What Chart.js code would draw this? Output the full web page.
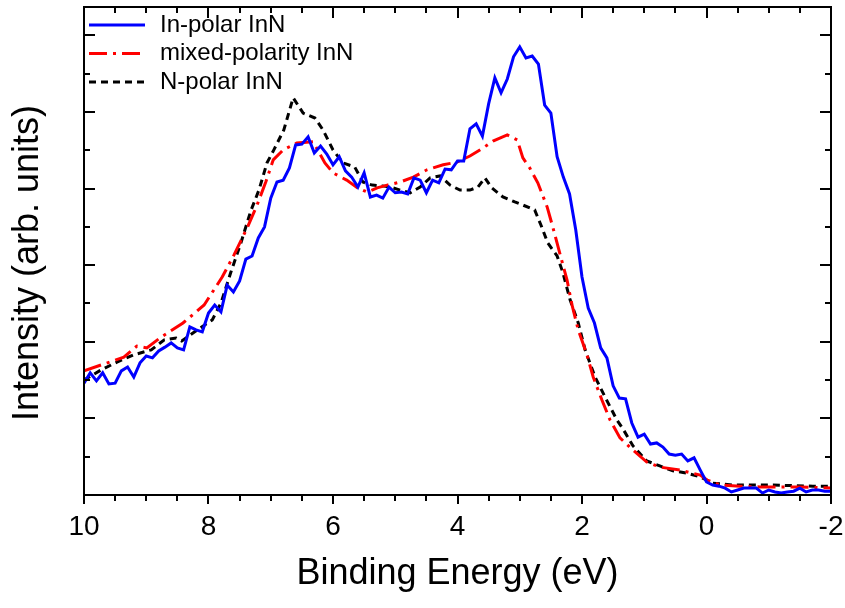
<!DOCTYPE html>
<html>
<head>
<meta charset="utf-8">
<script src="https://cdn.jsdelivr.net/npm/chart.js@4.4.0/dist/chart.umd.min.js"></script>
<style>
  html, body { margin: 0; padding: 0; background: #fff; }
</style>
</head>
<body>
<canvas id="xps" width="845" height="608"></canvas>
<script>
// Series names (legend order)
const seriesNames = ['In-polar InN', 'mixed-polarity InN', 'N-polar InN'];

// In-polar InN: binding energy (eV) and intensity (arb. units)
const inPolarEnergy = [
  10.0, 9.9, 9.8, 9.7, 9.6, 9.5, 9.4, 9.3, 9.2, 9.1,
  9.0, 8.9, 8.8, 8.7, 8.6, 8.5, 8.4, 8.3, 8.2, 8.1,
  8.0, 7.9, 7.8, 7.7, 7.6, 7.5, 7.4, 7.3, 7.2, 7.1,
  7.0, 6.9, 6.8, 6.7, 6.6, 6.5, 6.4, 6.3, 6.2, 6.1,
  6.0, 5.9, 5.8, 5.7, 5.6, 5.5, 5.4, 5.3, 5.2, 5.1,
  5.0, 4.9, 4.8, 4.7, 4.6, 4.5, 4.4, 4.3, 4.2, 4.1,
  4.0, 3.9, 3.8, 3.7, 3.6, 3.5, 3.4, 3.3, 3.2, 3.1,
  3.0, 2.9, 2.8, 2.7, 2.6, 2.5, 2.4, 2.3, 2.2, 2.1,
  2.0, 1.9, 1.8, 1.7, 1.6, 1.5, 1.4, 1.3, 1.2, 1.1,
  1.0, 0.9, 0.8, 0.7, 0.6, 0.5, 0.4, 0.3, 0.2, 0.1,
  0.0, -0.1, -0.2, -0.3, -0.4, -0.5, -0.6, -0.7, -0.8, -0.9,
  -1.0, -1.1, -1.2, -1.3, -1.4, -1.5, -1.6, -1.7, -1.8, -1.9,
  -2.0
];
const inPolarIntensity = [
  2.92, 3.19, 2.98, 3.19, 2.90, 2.92, 3.24, 3.34, 3.08, 3.45,
  3.63, 3.58, 3.76, 3.86, 3.97, 3.84, 3.79, 4.39, 4.31, 4.26,
  4.75, 4.96, 4.78, 5.48, 5.30, 5.59, 6.16, 6.24, 6.71, 7.00,
  7.75, 8.17, 8.22, 8.54, 9.14, 9.16, 9.35, 8.93, 9.11, 8.90,
  8.62, 8.83, 8.46, 8.30, 8.04, 8.41, 7.78, 7.83, 7.75, 8.04,
  7.89, 7.91, 7.86, 8.28, 8.22, 7.89, 8.22, 8.15, 8.51, 8.49,
  8.72, 8.72, 9.56, 9.69, 9.37, 10.21, 10.89, 10.50, 10.86, 11.44,
  11.70, 11.41, 11.46, 11.25, 10.18, 9.97, 8.83, 8.30, 7.86, 6.92,
  5.69, 4.88, 4.49, 3.84, 3.58, 2.85, 2.53, 2.51, 1.88, 1.51,
  1.59, 1.33, 1.36, 1.25, 1.07, 1.04, 1.07, 0.89, 0.97, 0.65,
  0.34, 0.26, 0.23, 0.18, 0.08, 0.13, 0.18, 0.18, 0.18, 0.05,
  0.13, 0.08, 0.05, 0.08, 0.10, 0.18, 0.08, 0.13, 0.13, 0.10,
  0.10
];

// mixed-polarity InN
const mixedEnergy = [
  10.0, 9.68, 9.36, 9.15, 8.99, 8.78, 8.41, 8.07, 7.78, 7.59,
  7.38, 7.22, 7.08, 6.96, 6.80, 6.58, 6.32, 6.13, 6.00, 5.78,
  5.61, 5.45, 5.29, 5.13, 4.92, 4.71, 4.49, 4.23, 4.01, 3.80,
  3.59, 3.43, 3.20, 3.04, 2.95, 2.84, 2.71, 2.56, 2.47, 2.35,
  2.24, 2.16, 2.06, 1.92, 1.82, 1.68, 1.55, 1.39, 1.18, 0.96,
  0.75, 0.43, 0.10, -0.01, -0.22, -0.54, -0.86, -1.50, -2.0
];
const mixedIntensity = [
  3.24, 3.42, 3.60, 3.89, 3.84, 4.10, 4.49, 4.96, 5.69, 6.27,
  6.97, 7.57, 8.17, 8.75, 9.01, 9.19, 9.22, 8.67, 8.41, 8.22,
  8.02, 7.91, 8.02, 8.09, 8.17, 8.30, 8.49, 8.62, 8.69, 8.85,
  9.06, 9.24, 9.40, 9.27, 8.80, 8.54, 8.15, 7.52, 7.00, 6.27,
  5.61, 4.96, 4.31, 3.66, 3.08, 2.48, 1.96, 1.49, 1.17, 0.86,
  0.73, 0.65, 0.52, 0.39, 0.26, 0.23, 0.21, 0.21, 0.18
];

// N-polar InN
const nPolarEnergy = [
  10.0, 9.73, 9.47, 9.20, 8.92, 8.71, 8.52, 8.43, 8.18, 7.94,
  7.80, 7.64, 7.48, 7.32, 7.19, 7.06, 6.95, 6.79, 6.64, 6.48,
  6.29, 6.16, 6.00, 5.84, 5.65, 5.52, 5.37, 5.21, 5.08, 4.92,
  4.76, 4.60, 4.44, 4.28, 4.12, 3.96, 3.80, 3.67, 3.56, 3.45,
  3.27, 3.08, 2.95, 2.76, 2.66, 2.55, 2.40, 2.31, 2.19, 2.06,
  1.95, 1.79, 1.63, 1.44, 1.34, 1.18, 0.96, 0.75, 0.54, 0.31,
  0.10, -0.10, -0.43, -1.07, -1.71, -2.0
];
const nPolarIntensity = [
  3.00, 3.26, 3.47, 3.66, 3.79, 4.05, 4.10, 4.02, 4.31, 4.57,
  5.01, 5.82, 6.58, 7.42, 7.96, 8.67, 9.01, 9.53, 10.37, 9.97,
  9.84, 9.53, 9.01, 8.67, 8.56, 8.17, 8.09, 8.07, 8.04, 7.96,
  7.89, 8.04, 8.28, 8.33, 8.09, 7.96, 7.96, 8.04, 8.28, 8.02,
  7.78, 7.65, 7.57, 7.44, 7.05, 6.58, 6.24, 5.82, 5.09, 4.49,
  3.79, 3.08, 2.56, 1.96, 1.72, 1.28, 0.89, 0.76, 0.63, 0.57,
  0.47, 0.31, 0.26, 0.26, 0.23, 0.23
];

// x tick labels (binding energy, reversed axis)
const xTickLabels = ['10', '8', '6', '4', '2', '0', '-2'];
const yTitle = 'Intensity (arb. units)';

const FONT = '"Liberation Sans", Arial, sans-serif';
const toPoints = (xs, ys) => xs.map((x, i) => ({ x: x, y: ys[i] }));

// frame + tick marks like the original plot (inward except bottom)
const frameTicks = {
  id: 'frameTicks',
  afterDatasetsDraw(chart) {
    const { ctx, chartArea: a, scales: { x, y } } = chart;
    ctx.save();
    ctx.strokeStyle = '#000';
    ctx.lineWidth = 2;
    ctx.beginPath();
    // x ticks every 0.5 eV, major every 2 eV
    for (let k = 0; k <= 24; k++) {
      const v = 10 - k * 0.5;
      const px = Math.round(x.getPixelForValue(v));
      const major = k % 4 === 0;
      ctx.moveTo(px, a.bottom);
      ctx.lineTo(px, a.bottom + (major ? 9 : 6));
      ctx.moveTo(px, a.top);
      ctx.lineTo(px, a.top + (major ? 11 : 6));
    }
    // y ticks every unit, major on even values
    for (let v = 1; v <= 12; v++) {
      const py = Math.round(y.getPixelForValue(v));
      const len = v % 2 === 0 ? 11 : 6;
      ctx.moveTo(a.left, py);
      ctx.lineTo(a.left + len, py);
      ctx.moveTo(a.right, py);
      ctx.lineTo(a.right - len, py);
    }
    ctx.stroke();
    ctx.strokeRect(a.left, a.top, a.right - a.left, a.bottom - a.top);
    ctx.restore();
  }
};

// legend inside the plot (top-left) and the y-axis title
const insideLegend = {
  id: 'insideLegend',
  afterDraw(chart) {
    const { ctx } = chart;
    ctx.save();
    ctx.font = '24px ' + FONT;
    ctx.textBaseline = 'middle';
    ctx.fillStyle = '#000';
    chart.data.datasets.forEach((ds, i) => {
      const ly = 25 + i * 28.5;
      ctx.strokeStyle = ds.borderColor;
      ctx.lineWidth = ds.borderWidth;
      ctx.setLineDash(ds.borderDash || []);
      ctx.beginPath();
      ctx.moveTo(89, ly);
      ctx.lineTo(145, ly);
      ctx.stroke();
      ctx.fillText(ds.label, 160, ly);
    });
    ctx.setLineDash([]);
    // y title, a little below the centre of the plot as in the original
    ctx.translate(28, 263);
    ctx.rotate(-Math.PI / 2);
    ctx.textAlign = 'center';
    ctx.font = '36px ' + FONT;
    ctx.fillText(yTitle, 0, 0);
    ctx.restore();
  }
};

new Chart(document.getElementById('xps'), {
  type: 'line',
  data: {
    datasets: [
      {
        label: seriesNames[0],
        data: toPoints(inPolarEnergy, inPolarIntensity),
        borderColor: '#0000ff',
        borderWidth: 3,
        borderDash: []
      },
      {
        label: seriesNames[1],
        data: toPoints(mixedEnergy, mixedIntensity),
        borderColor: '#ff0000',
        borderWidth: 3,
        borderDash: [18, 6, 3, 6]
      },
      {
        label: seriesNames[2],
        data: toPoints(nPolarEnergy, nPolarIntensity),
        borderColor: '#000000',
        borderWidth: 3,
        borderDash: [7, 5]
      }
    ]
  },
  options: {
    responsive: false,
    animation: false,
    elements: {
      point: { radius: 0 },
      line: { tension: 0, fill: false }
    },
    layout: { padding: { left: 0, top: 7, right: 14, bottom: 0 } },
    plugins: {
      legend: { display: false },
      tooltip: { enabled: false }
    },
    scales: {
      x: {
        type: 'linear',
        reverse: true,
        min: -2,
        max: 10,
        grid: { display: false, drawTicks: false },
        border: { display: false },
        afterFit: (s) => { s.height = 113; s.paddingLeft = 0; s.paddingRight = 0; },
        afterBuildTicks: (s) => {
          s.ticks = xTickLabels.map(t => ({ value: Number(t) }));
        },
        ticks: {
          padding: 15,
          color: '#000',
          font: { size: 28, family: FONT },
          callback: (v) => String(v)
        },
        title: {
          display: true,
          text: 'Binding Energy (eV)',
          color: '#000',
          font: { size: 36, family: FONT },
          padding: { top: 0, bottom: 12 }
        }
      },
      y: {
        type: 'linear',
        min: 0,
        max: 12.74,
        grid: { display: false, drawTicks: false },
        border: { display: false },
        afterFit: (s) => { s.width = 84; },
        ticks: { display: false },
        title: { display: false }
      }
    }
  },
  plugins: [frameTicks, insideLegend]
});
</script>
</body>
</html>
